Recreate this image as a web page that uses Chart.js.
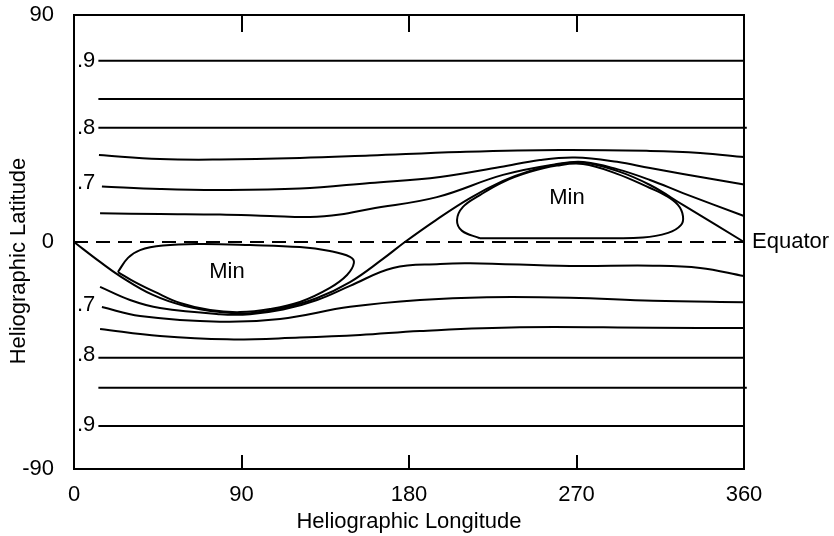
<!DOCTYPE html>
<html>
<head>
<meta charset="utf-8">
<script src="https://cdn.jsdelivr.net/npm/chart.js@4/dist/chart.umd.min.js"></script>
<style>
  html, body { margin: 0; padding: 0; background: #fff; }
  #wrap { width: 834px; height: 536px; }
</style>
</head>
<body>
<div id="wrap"><canvas id="chart"></canvas></div>
<script>
// axis ticks
const xTicks = [0, 90, 180, 270, 360];
const yTicks = [-90, 0, 90];
const innerTicks = [90, 180, 270];

// contours north of equator: [longitude, latitude]
const north90 = [[13.1, 71.9], [360, 71.9]];
const north85 = [[13.1, 56.7], [360, 56.7]];
const north80 = [[13.1, 45.3], [361.5, 45.3]];
const north75 = [[13.4, 34.5], [46.2, 32.9], [78.4, 32.7], [121.4, 33.3], [159, 34.3], [207.4, 35.7],
  [261.1, 36.5], [309.5, 36.1], [336.4, 35.3], [360, 33.7]];
const north70 = [[15, 22], [46.2, 21], [78.4, 20.6], [121.4, 21.2], [159, 23.4], [196.7, 25.8], [229, 29.7],
  [250.4, 32.5], [269.2, 33.5], [291.8, 31.8], [309.5, 29.3], [327.2, 27], [360, 22.8]];
const north65 = [[14, 11.4], [46.2, 11.1], [78.4, 10.9], [105.3, 10.3], [126.8, 9.9], [142.9, 10.9], [159, 13.1],
  [195, 17.8], [230.5, 26.6], [259.5, 30.9], [273.5, 31.7], [291.8, 28.9], [309.5, 24.6], [327.2, 19.4], [360, 10.3]];

// separatrix running through both minima
const separatrix = [[0, 0], [14, -7.9], [24.7, -13.5], [42.4, -21], [59.6, -25.4], [78.4, -27.8], [94.6, -28.2],
  [112.3, -26.2], [130.6, -22.2], [148.3, -15.9], [166, -6.7], [177.8, 0], [194.5, 8.7], [212.8, 17.4],
  [230.5, 24.2], [245, 28.2], [259.5, 30.7], [273.5, 31.5], [291.8, 28.2], [309.5, 22.6], [327.2, 14.7], [360, 0]];

// closed minimum contours
const minEast = [[218.1, 1.5], [261.1, 1.5], [305.7, 1.8], [319.2, 3.6], [326.1, 6.7], [327.2, 10.3], [324.5, 14.7],
  [317.5, 18.6], [309.5, 21.4], [291.8, 27], [273.5, 30.9], [259.5, 30.3], [245, 27.8], [230.5, 23.8],
  [218.1, 18.6], [209, 13.9], [205.8, 8.7], [208.5, 4.4], [218.1, 1.5]];
const minWest = [[23.6, -11.9], [29, -6.3], [35.5, -3.2], [47.8, -1.4], [67.7, -0.8], [94.6, -1.2], [121.4, -2],
  [137.5, -3.6], [148.3, -5.9], [150.4, -8.3], [146.7, -13.1], [137.5, -18.2], [121.4, -23.8], [105.3, -26.6],
  [89.2, -27.8], [73.1, -27], [57, -24.2], [43.5, -19.8], [32.8, -15.9], [23.6, -11.9]];

// contours south of equator
const south65 = [[14, -17.8], [30.1, -23], [46.2, -26.2], [78.4, -28.6], [94.6, -28.6], [112.3, -26.8],
  [130.6, -23], [148.3, -17.4], [171.4, -10.3], [196.7, -8.7], [212.8, -8.4], [266.5, -9.5], [311.1, -9.4],
  [336.4, -10.3], [360, -13.5]];
const south70 = [[15, -25.8], [35.5, -29.3], [78.4, -31.6], [110.7, -30.5], [148.3, -25.7], [185.9, -23],
  [221.9, -21.9], [266.5, -22.1], [311.1, -23.3], [360, -23.9]];
const south75 = [[14, -34.5], [46.2, -37.3], [82.2, -38.6], [121.4, -37.9], [153.7, -36.9], [185.9, -35.3],
  [239.6, -33.8], [311.1, -34], [360, -34.1]];
const south80 = [[13.1, -45.9], [360, -45.9]];
const south85 = [[13.1, -57.8], [361.5, -57.8]];
const south90 = [[13.1, -73], [360, -73]];

const equator = [[0, 0], [360, 0]];

// annotations
const contourLabels = ['.9', '.8', '.7', '.7', '.8', '.9'];
const contourLabelLat = [71.9, 45.3, 23.4, -25, -44.8, -72.6];
const minLabelLon = [82.2, 264.9];
const minLabelLat = [-11.7, 17.4];

const FONT = '"Liberation Sans", Arial, Helvetica, sans-serif';
const FONT_SIZE = 22;

const toXY = (pts) => pts.map((p) => ({ x: p[0], y: p[1] }));
const curve = (pts, extra) => Object.assign({
  data: toXY(pts),
  showLine: true,
  borderColor: '#000',
  borderWidth: 2,
  pointRadius: 0,
  tension: 0.4,
  fill: false,
  clip: false,
}, extra || {});

const allCurves = [north90, north85, north80, north75, north70, north65, separatrix, minEast, minWest,
  south65, south70, south75, south80, south85, south90];

const datasets = allCurves.map((c) => curve(c));
datasets.push(curve(equator, { borderDash: [14, 8], tension: 0 }));

// frame, inward ticks and text labels
const overlay = {
  id: 'overlay',
  afterDatasetsDraw(chart) {
    const { ctx, chartArea: a, scales: { x, y } } = chart;
    ctx.save();
    ctx.strokeStyle = '#000';
    ctx.lineWidth = 2;
    ctx.strokeRect(a.left, a.top, a.width, a.height);

    ctx.beginPath();
    innerTicks.forEach((v) => {
      const px = Math.round(x.getPixelForValue(v));
      ctx.moveTo(px, a.top);
      ctx.lineTo(px, a.top + 17);
      ctx.moveTo(px, a.bottom);
      ctx.lineTo(px, a.bottom - 14);
    });
    ctx.stroke();

    ctx.fillStyle = '#000';
    ctx.font = FONT_SIZE + 'px ' + FONT;
    ctx.textBaseline = 'middle';
    ctx.textAlign = 'left';
    contourLabels.forEach((t, i) => {
      ctx.fillText(t, a.left + 3, y.getPixelForValue(contourLabelLat[i]));
    });

    ctx.textAlign = 'center';
    minLabelLon.forEach((lon, i) => {
      ctx.fillText('Min', x.getPixelForValue(lon), y.getPixelForValue(minLabelLat[i]));
    });

    ctx.textAlign = 'left';
    ctx.fillText('Equator', a.right + 8, y.getPixelForValue(0));

    // y axis title, sitting a little below the centre as in the original figure
    ctx.save();
    ctx.translate(19, (a.top + a.bottom) / 2 + 19);
    ctx.rotate(-Math.PI / 2);
    ctx.textAlign = 'center';
    ctx.fillText('Heliographic Latitude', 0, 0);
    ctx.restore();

    ctx.restore();
  }
};

new Chart(document.getElementById('chart'), {
  type: 'scatter',
  data: { datasets: datasets },
  options: {
    responsive: true,
    maintainAspectRatio: false,
    animation: false,
    layout: { padding: { top: 15, right: 90, left: 0, bottom: 0 } },
    plugins: {
      legend: { display: false },
      tooltip: { enabled: false },
    },
    scales: {
      x: {
        type: 'linear',
        min: 0,
        max: 360,
        afterBuildTicks: (s) => { s.ticks = xTicks.map((v) => ({ value: v })); },
        afterFit: (s) => { s.height = 67; s.paddingLeft = 0; s.paddingRight = 0; },
        grid: { display: false },
        border: { display: false },
        ticks: { color: '#000', padding: 5, font: { family: FONT, size: FONT_SIZE } },
        title: {
          display: true,
          text: 'Heliographic Longitude',
          color: '#000',
          font: { family: FONT, size: FONT_SIZE },
          padding: { top: 0, bottom: 1 },
        },
      },
      y: {
        type: 'linear',
        min: -90,
        max: 90,
        afterBuildTicks: (s) => { s.ticks = yTicks.map((v) => ({ value: v })); },
        afterFit: (s) => { s.width = 74; s.paddingTop = 0; s.paddingBottom = 0; },
        grid: { display: false },
        border: { display: false },
        ticks: { color: '#000', padding: 12, font: { family: FONT, size: FONT_SIZE } },
        title: { display: false },
      },
    },
  },
  plugins: [overlay],
});
</script>
</body>
</html>
